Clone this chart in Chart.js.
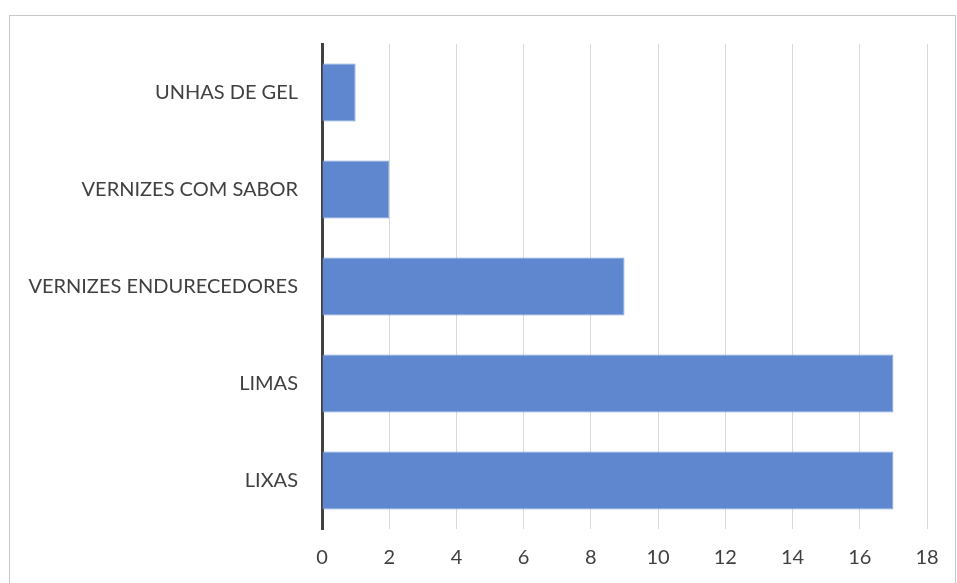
<!DOCTYPE html>
<html>
<head>
<meta charset="utf-8">
<script src="https://cdn.jsdelivr.net/npm/chart.js@4"></script>
<style>
    html, body { margin: 0; padding: 0; background: #fff; }
    #wrap { position: relative; width: 957px; height: 583px; overflow: hidden; }
    #frame { position: absolute; left: 9px; top: 15px; width: 945px; height: 600px; border: 1px solid #c8c8c8; }
    canvas { position: absolute; left: 0; top: 0; }
</style>
</head>
<body>
<div id="wrap">
    <div id="frame"></div>
    <canvas id="chart" width="957" height="583"></canvas>
</div>
<script>
// 類別與數值
const categories = ['UNHAS DE GEL', 'VERNIZES COM SABOR', 'VERNIZES ENDURECEDORES', 'LIMAS', 'LIXAS'];
const values = [1, 2, 9, 17, 17];
const xTicks = [0, 2, 4, 6, 8, 10, 12, 14, 16, 18];

const textColor = '#404040';
const fontFamily = 'Lato, "Open Sans", sans-serif';

const ctx = document.getElementById('chart');
new Chart(ctx, {
    type: 'bar',
    data: {
        labels: categories,
        datasets: [{
            data: values,
            backgroundColor: '#5F87CF',
            borderColor: '#7FA0DA',
            borderWidth: 1,
            borderSkipped: 'start',
            categoryPercentage: 1,
            barPercentage: 0.6
        }]
    },
    options: {
        indexAxis: 'y',
        responsive: false,
        animation: false,
        layout: { padding: { top: 44, right: 30, left: 0, bottom: 0 } },
        plugins: {
            legend: { display: false },
            tooltip: { enabled: false }
        },
        scales: {
            x: {
                min: 0,
                max: 18,
                afterBuildTicks: axis => { axis.ticks = xTicks.map(v => ({ value: v })); },
                ticks: { color: textColor, font: { family: fontFamily, size: 20 }, padding: 17 },
                grid: { color: '#d9d9d9', lineWidth: 1, drawTicks: false },
                border: { display: false },
                afterFit: axis => { axis.height = 54; }
            },
            y: {
                ticks: { color: textColor, font: { family: fontFamily, size: 20 }, padding: 24 },
                grid: { display: false, drawTicks: false },
                border: { display: true, color: '#404040', width: 3 },
                afterFit: axis => { axis.width = 322; }
            }
        }
    }
});
</script>
</body>
</html>
